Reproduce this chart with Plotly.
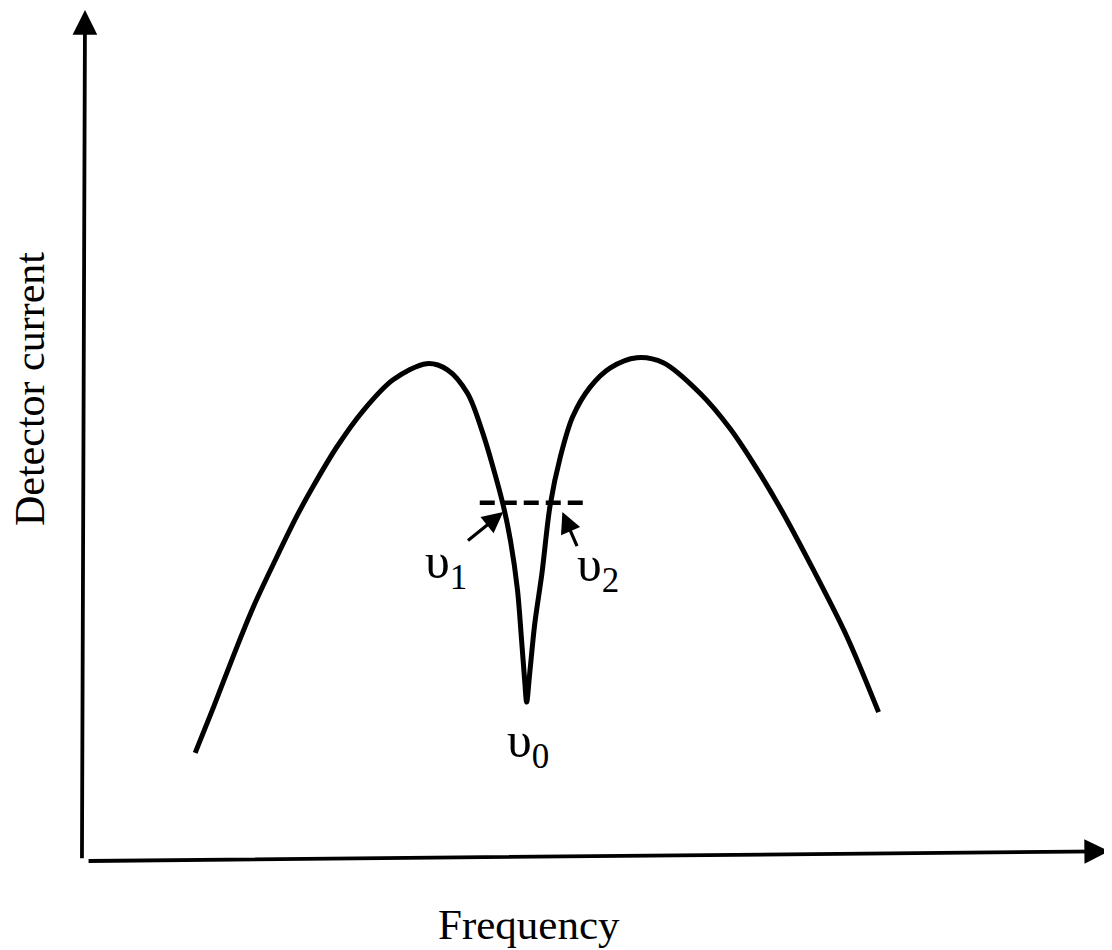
import plotly.graph_objects as go

# Кривая тока детектора (частота, ток) - произвольные единицы
freq = [10.8, 12.6, 14.5, 16.5, 18.8, 20.8, 22.4, 24.7, 27.3, 30.2, 33.5, 35.5,
        37.5, 39.0, 40.0, 41.0, 41.7, 42.4, 42.8, 43.1, 43.3,
        43.6, 44.1, 44.8, 45.6, 46.6, 47.8, 49.5, 51.5, 54.1, 56.7, 60.3,
        63.2, 65.5, 68.1, 71.4, 74.7, 77.8]
current = [12.4, 17.8, 23.7, 29.6, 35.5, 40.4, 43.9, 48.5, 52.8, 56.4, 58.3, 57.6,
           54.8, 50.1, 46.1, 41.6, 37.5, 31.6, 25.7, 21.0, 18.4,
           21.8, 27.7, 33.6, 41.6, 47.3, 52.0, 55.5, 57.8, 59.0, 58.4, 54.8,
           50.7, 46.6, 41.4, 34.0, 26.1, 17.2]

# Уровень (пунктир) и частоты v1, v2, v0
level_x = [38.7, 49.3]
level_y = 41.9
marker_names = ["υ<sub>1</sub>", "υ<sub>2</sub>", "υ<sub>0</sub>"]
marker_pos = [(35.4, 34.6), (50.3, 34.2), (43.4, 13.4)]
arrow_tips = [(41.0, 40.8), (46.8, 40.8)]
arrow_tails = [(37.4, 37.3), (48.3, 36.6)]

serif = "Liberation Serif"

fig = go.Figure()

fig.add_trace(go.Scatter(x=freq, y=current, mode="lines",
                         line=dict(color="black", width=5, shape="spline", smoothing=0.9),
                         hoverinfo="skip"))

fig.add_trace(go.Scatter(x=level_x, y=[level_y, level_y], mode="lines",
                         line=dict(color="black", width=4.5, dash="15px,7px"),
                         hoverinfo="skip"))

annotations = []

# оси со стрелками
annotations.append(dict(x=0, y=100.0, ax=-0.3, ay=-0.2, xref="x", yref="y",
                        axref="x", ayref="y", text="", showarrow=True,
                        arrowhead=2, arrowsize=1.3, arrowwidth=3.8, arrowcolor="black"))
annotations.append(dict(x=100.4, y=0.8, ax=0.2, ay=-0.35, xref="x", yref="y",
                        axref="x", ayref="y", text="", showarrow=True,
                        arrowhead=2, arrowsize=1.3, arrowwidth=3.8, arrowcolor="black"))

# стрелки к v1, v2
for tip, tail in zip(arrow_tips, arrow_tails):
    annotations.append(dict(x=tip[0], y=tip[1], ax=tail[0], ay=tail[1], xref="x", yref="y",
                            axref="x", ayref="y", text="", showarrow=True,
                            arrowhead=2, arrowsize=1.3, arrowwidth=3.2, arrowcolor="black"))

for name, (px, py) in zip(marker_names, marker_pos):
    annotations.append(dict(x=px, y=py, xref="x", yref="y", text=name, showarrow=False,
                            font=dict(family=serif, size=50, color="black")))

# подписи осей
annotations.append(dict(x=43.5, y=-7.8, xref="x", yref="y", text="Frequency", showarrow=False,
                        font=dict(family=serif, size=43, color="black")))
annotations.append(dict(x=-5.4, y=55.3, xref="x", yref="y", text="Detector current",
                        textangle=-90, showarrow=False,
                        font=dict(family=serif, size=42, color="black")))

fig.update_layout(
    width=1112, height=950,
    margin=dict(l=0, r=0, t=0, b=0),
    paper_bgcolor="white", plot_bgcolor="white",
    showlegend=False,
    annotations=annotations,
    # страница сдвигает график на 8px, диапазоны учитывают это
    xaxis=dict(range=[-7.55, 101.47], visible=False, fixedrange=True),
    yaxis=dict(range=[-11.79, 100.24], visible=False, fixedrange=True),
)

fig.write_html("out.html")
